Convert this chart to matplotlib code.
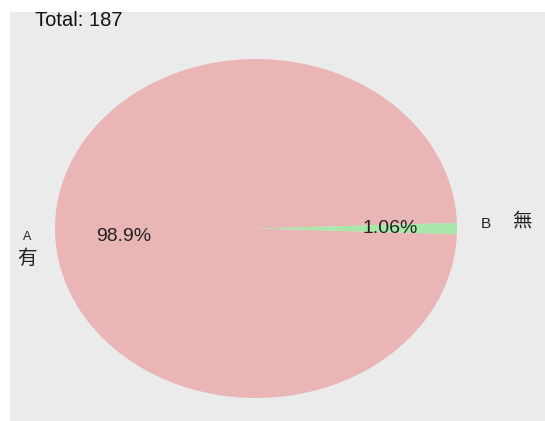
import matplotlib
matplotlib.use("Agg")
import matplotlib.pyplot as plt

plt.rcParams['font.family'] = ['Liberation Sans', 'Noto Sans CJK TC']

# data
categories = ["A", "B"]
cat_names = ["有", "無"]
shares = [98.94, 1.06]
total = 187
colors = ["#e9b5b5", "#a9e6a9"]

fig = plt.figure(figsize=(5.45, 4.21), dpi=100)
fig.patch.set_facecolor("white")

# grey panel behind the pie
bg = fig.add_axes([10 / 545, 0, 535 / 545, 409 / 421])
bg.set_facecolor("#ebebeb")
bg.set_xticks([])
bg.set_yticks([])
for s in bg.spines.values():
    s.set_visible(False)

ax = fig.add_axes([55 / 545, 23 / 421, 402 / 545, 339 / 421])
ax.patch.set_alpha(0)
start = shares[1] / 100 * 360 / 2
wedges, texts, autotexts = ax.pie(
    shares, colors=colors, startangle=start, autopct="%.3g%%",
    pctdistance=0.66, wedgeprops=dict(linewidth=0),
    textprops=dict(fontsize=14, color="#222222"))
ax.set_aspect("auto")
ax.set_xlim(-1, 1)
ax.set_ylim(-1, 1)

# nudge the percent labels to where the original has them
autotexts[0].set_position((-0.657, -0.05))
autotexts[1].set_position((0.67, 0.0))

fig.text(35 / 545, 1 - 20 / 421, f"Total: {total}", fontsize=14.5,
         ha="left", va="center", color="#111111")

fig.text(27 / 545, 1 - 237 / 421, categories[0], fontsize=9,
         ha="center", va="center", color="#222222")
fig.text(27 / 545, 1 - 258 / 421, cat_names[0], fontsize=14,
         ha="center", va="center", color="#222222")
fig.text(486 / 545, 1 - 224 / 421, categories[1], fontsize=11,
         ha="center", va="center", color="#222222")
fig.text(522 / 545, 1 - 222 / 421, cat_names[1], fontsize=14,
         ha="center", va="center", color="#222222")

fig.savefig("out.png", dpi=100)
